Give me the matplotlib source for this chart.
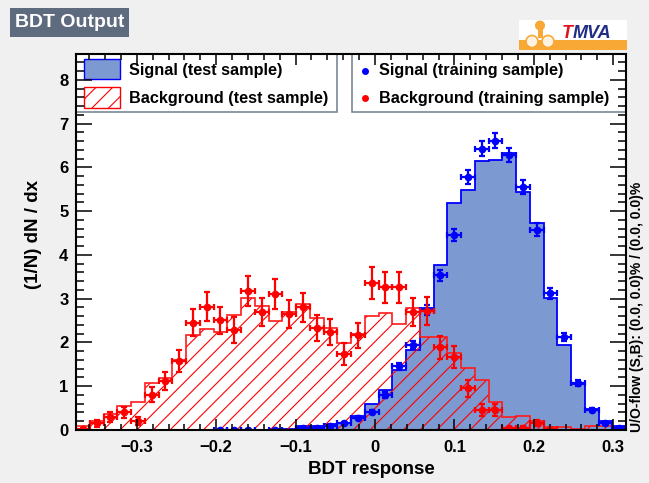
import numpy as np
import matplotlib
matplotlib.use("Agg")
import matplotlib.pyplot as plt
from matplotlib.patches import Rectangle, Circle
from matplotlib.ticker import MultipleLocator, FuncFormatter

# BDT response binning (40 bins)
x_lo, x_hi = -0.3764, 0.3162
n_bins = 40

# normalised (1/N) dN/dx per bin
sig_test = [0, 0, 0, 0, 0, 0, 0, 0, 0, 0,
            0, 0.01, 0.01, 0.01, 0.02, 0.03, 0.08, 0.09, 0.14, 0.17,
            0.33, 0.59, 0.92, 1.36, 1.83, 2.78, 3.76, 5.18, 5.49, 6.14,
            6.18, 6.32, 5.44, 4.73, 3.01, 1.94, 1.06, 0.47, 0.20, 0.08]
sig_train = [0, 0, 0, 0, 0, 0, 0, 0, 0, 0,
             0.01, 0.01, 0.01, 0, 0.01, 0, 0.05, 0.05, 0.10, 0.15,
             0.28, 0.41, 0.80, 1.46, 1.94, 2.74, 3.54, 4.45, 5.78, 6.43,
             6.61, 6.29, 5.56, 4.58, 3.12, 2.12, 1.08, 0.46, 0.15, 0.05]
bkg_test = [0.08, 0.21, 0.36, 0.55, 0.65, 1.08, 1.18, 1.61, 2.18, 2.31,
            2.24, 2.62, 3.02, 2.84, 2.49, 2.70, 2.88, 2.56, 2.32, 1.98,
            2.20, 2.60, 2.68, 2.42, 2.78, 2.13, 2.13, 1.77, 1.41, 1.14,
            0.65, 0.30, 0.33, 0.20, 0.06, 0.06, 0.02, 0.08, 0.10, 0.03]
bkg_train = [0.02, 0.15, 0.30, 0.40, 0.20, 0.81, 1.13, 1.58, 2.45, 2.82,
             2.51, 2.29, 3.18, 2.70, 3.10, 2.65, 2.80, 2.34, 2.24, 1.73,
             2.17, 3.36, 3.26, 3.26, 2.70, 2.72, 1.89, 1.66, 0.95, 0.46,
             0.46, 0.04, 0.05, 0.16, 0.02, 0, 0, 0, 0, 0]

# training sample sizes, for the Poisson errors
n_sig_train = 13300
n_bkg_train = 1530

legend_left = ["Signal (test sample)", "Background (test sample)"]
legend_right = ["Signal (training sample)", "Background (training sample)"]
uoflow = "U/O-flow (S,B): (0.0, 0.0)% / (0.0, 0.0)%"

plt.rcParams['font.family'] = ['Liberation Sans', 'DejaVu Sans']
plt.rcParams['font.weight'] = 'bold'
plt.rcParams['axes.labelweight'] = 'bold'
plt.rcParams['hatch.linewidth'] = 0.8
plt.rcParams['hatch.color'] = 'red'

W, H = 649, 483
sig_fill = '#7d99d1'

def fx(x):
    return x / W

def fy(y):
    return 1 - y / H

def prect(x0, y0, x1, y1, **kw):  # rectangle given in pixel coords (y down)
    return Rectangle((fx(x0), fy(y1)), fx(x1) - fx(x0), fy(y0) - fy(y1),
                     transform=fig.transFigure, **kw)

edges = np.linspace(x_lo, x_hi, n_bins + 1)
centers = 0.5 * (edges[1:] + edges[:-1])
bin_w = edges[1] - edges[0]
sig_test = np.array(sig_test)
sig_train = np.array(sig_train)
bkg_test = np.array(bkg_test)
bkg_train = np.array(bkg_train)
sig_err = np.sqrt(sig_train / (n_sig_train * bin_w))
bkg_err = np.sqrt(bkg_train / (n_bkg_train * bin_w))
y_top = 1.3 * sig_train.max()

fig = plt.figure(figsize=(W / 100, H / 100), dpi=100, facecolor='#f0f0f0')
ax = fig.add_axes([fx(76.1), fy(430), 550 / W, (430 - 54) / H])
ax.set_axisbelow(False)

ax.stairs(sig_test, edges, fill=True, facecolor=sig_fill, edgecolor='none', zorder=1)
ax.stairs(sig_test, edges, color='blue', lw=1.3, zorder=1.05)
ax.stairs(bkg_test, edges, fill=True, facecolor='none', edgecolor='red',
          hatch='//', lw=0, zorder=1.1)
ax.stairs(bkg_test, edges, color='#ff1a1a', lw=1.2, zorder=1.15)

m = sig_train > 0
ax.errorbar(centers[m], sig_train[m], xerr=bin_w / 2, yerr=sig_err[m], fmt='o',
            color='blue', ms=4.5, elinewidth=1.6, capsize=2, capthick=1.6, zorder=1.5)
m = bkg_train > 0
ax.errorbar(centers[m], bkg_train[m], xerr=bin_w / 2, yerr=bkg_err[m], fmt='o',
            color='red', ms=4.5, elinewidth=1.6, capsize=2, capthick=1.6, zorder=1.6)

ax.set_xlim(x_lo, x_hi)
ax.set_ylim(0, y_top)
ax.xaxis.set_major_locator(MultipleLocator(0.1))
ax.xaxis.set_minor_locator(MultipleLocator(0.02))
ax.yaxis.set_major_locator(MultipleLocator(1))
ax.yaxis.set_minor_locator(MultipleLocator(0.2))
ax.xaxis.set_major_formatter(FuncFormatter(
    lambda v, _: '0' if abs(v) < 1e-9 else f'{v:.1f}'.replace('-', '\u2212')))
ax.tick_params(which='both', direction='in', top=True, right=True, width=1.1, labelsize=12)
ax.tick_params(axis='x', which='major', length=8.1, pad=7)
ax.tick_params(axis='x', which='minor', length=4)
ax.tick_params(axis='y', which='major', length=11.5, pad=5.5)
ax.tick_params(axis='y', which='minor', length=5.8)
for s in ax.spines.values():
    s.set_linewidth(1.5)

ax.set_xlabel('BDT response', fontsize=13.5, fontweight='bold', va='center')
ax.xaxis.set_label_coords(0.536, -0.106)
ax.set_ylabel('(1/N) dN / dx', fontsize=13.5, fontweight='bold', va='center')
ax.yaxis.set_label_coords(-0.078, 0.521)

# legend boxes inside the frame, under the tick marks
ax.add_patch(prect(76.1, 54, 337, 112, fc='white', ec='#7a8797', lw=1.2, zorder=2.2, clip_on=False))
ax.add_patch(prect(352, 54, 626.1, 112, fc='white', ec='#7a8797', lw=1.2, zorder=2.2, clip_on=False))
ax.add_patch(prect(84, 59, 120, 79, fc=sig_fill, ec='blue', lw=1, zorder=2.3, clip_on=False))
ax.add_patch(prect(84, 87, 120, 108, fc='none', ec='red', hatch='//', lw=1, zorder=2.3, clip_on=False))
for txt, yy in zip(legend_left, [71, 98]):
    ax.text(fx(129), fy(yy), txt, transform=fig.transFigure, va='center', fontsize=11.7, zorder=2.3)
for txt, yy, col in zip(legend_right, [71, 98], ['blue', 'red']):
    ax.plot([fx(365)], [fy(yy)], 'o', color=col, ms=4, transform=fig.transFigure,
            clip_on=False, zorder=2.3)
    ax.text(fx(379), fy(yy), txt, transform=fig.transFigure, va='center', fontsize=11.7, zorder=2.3)

# title box
fig.add_artist(prect(10, 8, 129, 37, fc='#5e6a7d', ec='none'))
fig.text(fx(69.5), fy(22.5), 'BDT Output', color='white', fontsize=14, ha='center', va='center')

# TMVA logo
lax = fig.add_axes([fx(519), fy(49.5), 108 / W, 29.5 / H])
lax.set_xlim(519, 627)
lax.set_ylim(49.5, 20)
lax.axis('off')
lax.add_patch(Rectangle((519, 20), 108, 29.5, fc='white', ec='none'))
lax.add_patch(Rectangle((519, 40), 108, 9.5, fc='#f8a834', ec='none'))
lax.add_patch(Rectangle((537.5, 26), 5, 12, fc='#f8a834', ec='none'))
lax.add_patch(Circle((540, 25.5), 5, fc='#f8a834', ec='none'))
lax.add_patch(Circle((532, 41.5), 6, fc='#fdf3e0', ec='#f8a834', lw=1.2))
lax.add_patch(Circle((548, 41.5), 6, fc='#fdf3e0', ec='#f8a834', lw=1.2))
lax.text(562, 33, 'T', color='#e0141c', fontsize=13, style='italic', va='center')
lax.text(573, 33, 'MVA', color='#1f2d85', fontsize=13, style='italic', va='center')

fig.text(fx(637), fy(432), uoflow, rotation=90, ha='center', va='bottom', fontsize=10)

fig.savefig('out.png', dpi=100, facecolor=fig.get_facecolor())
